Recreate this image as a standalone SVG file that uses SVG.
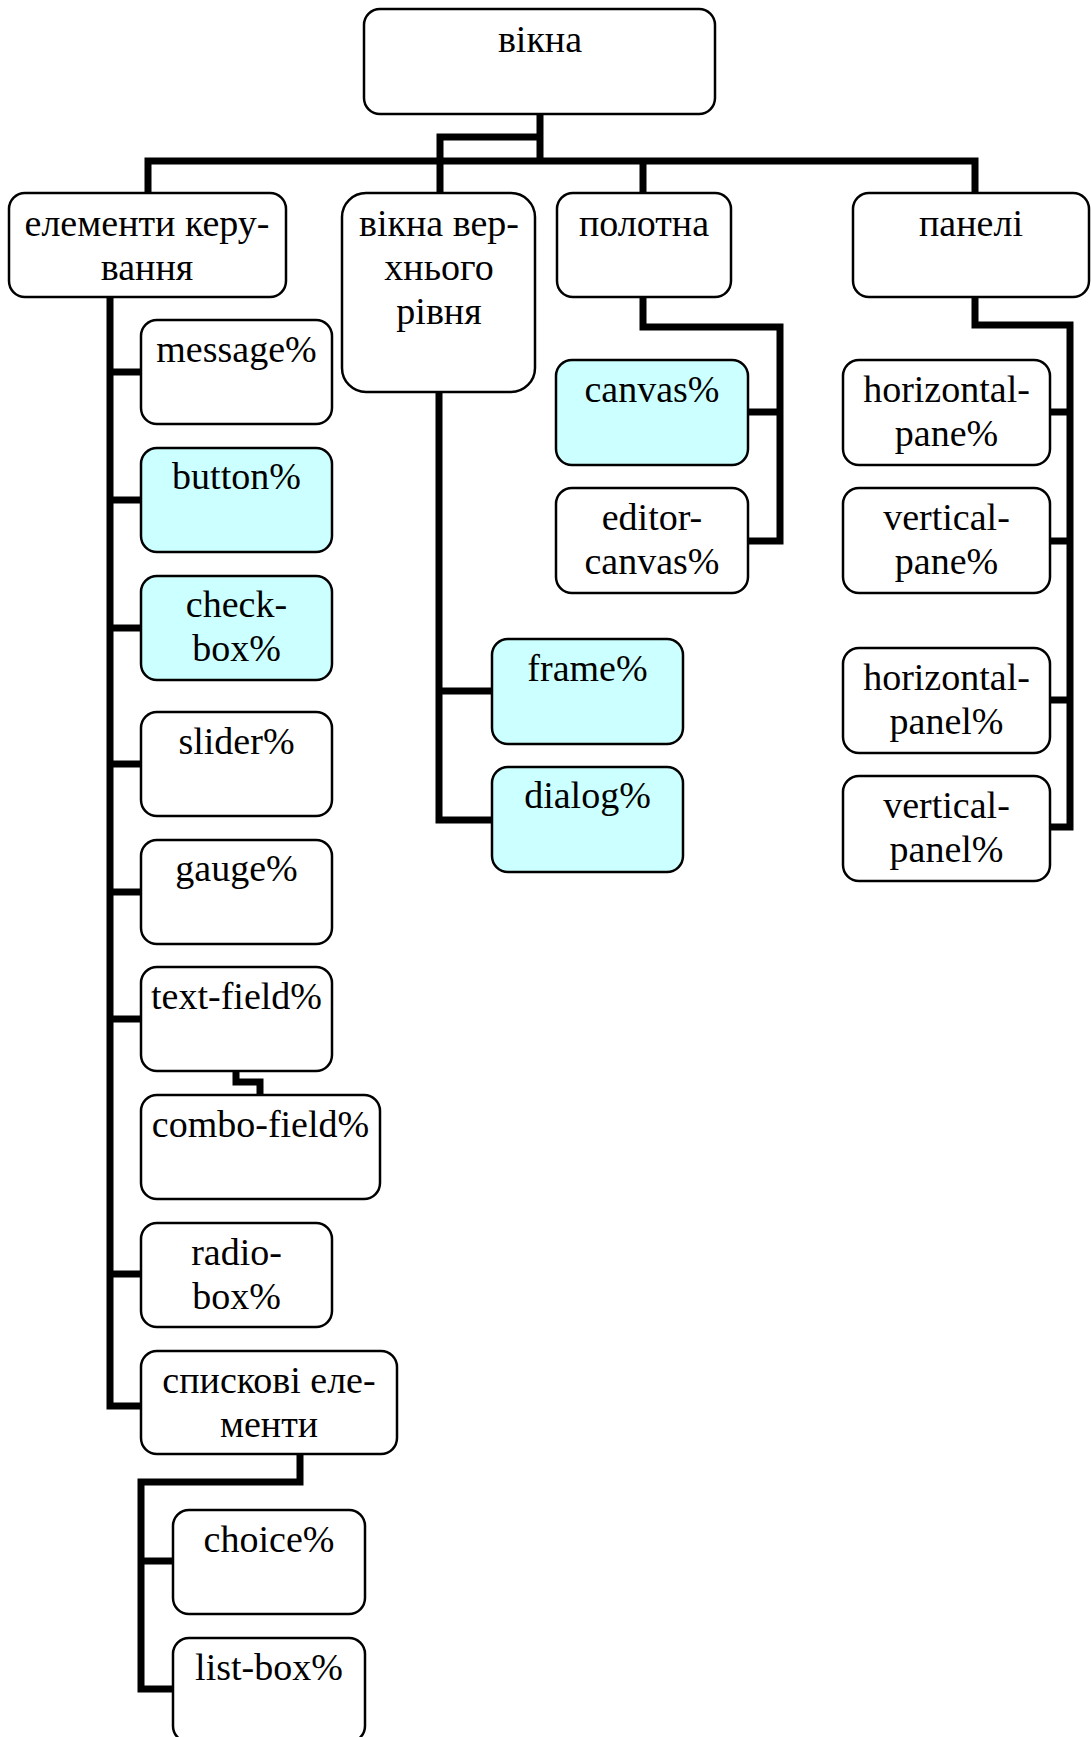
<svg xmlns="http://www.w3.org/2000/svg" width="1091" height="1737" viewBox="0 0 1091 1737">
<style>
.b{fill:#fff;stroke:#000;stroke-width:2.5}
.c{fill:#ccffff;stroke:#000;stroke-width:2.5}
.t{font-family:"Liberation Serif","Times New Roman",serif;font-size:38px;text-anchor:middle;fill:#000}
.l{fill:none;stroke:#000;stroke-width:7;stroke-linejoin:miter}
</style>
<rect width="1091" height="1737" fill="#fff"/>
<g id="connectors">
<path class="l" d="M540 114 V161 M148 193 V161 H975 V193 M643 161 V193 M540 137 H440 V193"/>
<path class="l" d="M110 297 V1406 H141 M110 372 H141 M110 500 H141 M110 628 H141 M110 764 H141 M110 892 H141 M110 1019 H141 M110 1274 H141"/>
<path class="l" d="M236 1071 V1082 H260 V1095"/>
<path class="l" d="M300 1454 V1482 H141 V1689 H173 M141 1561 H173"/>
<path class="l" d="M439 392 V820 H492 M439 691 H492"/>
<path class="l" d="M643 297 V327 H780 V541 H748 M748 412 H780"/>
<path class="l" d="M975 297 V325 H1070 V827 H1050 M1050 412 H1070 M1050 541 H1070 M1050 700 H1070"/>
</g>
<g id="root"><rect class="b" x="364" y="9" width="351" height="105" rx="16"/><text class="t" x="540" y="52">вікна</text></g>
<g id="elementy"><rect class="b" x="9" y="193" width="277" height="104" rx="16"/><text class="t" x="147" y="236">елементи керу-</text><text class="t" x="147" y="280">вання</text></g>
<g id="vikna-verkh"><rect class="b" x="342" y="193" width="193" height="199" rx="24"/><text class="t" x="439" y="236">вікна вер-</text><text class="t" x="439" y="280">хнього</text><text class="t" x="439" y="324">рівня</text></g>
<g id="polotna"><rect class="b" x="557" y="193" width="174" height="104" rx="16"/><text class="t" x="644" y="236">полотна</text></g>
<g id="paneli"><rect class="b" x="853" y="193" width="236" height="104" rx="16"/><text class="t" x="971" y="236">панелі</text></g>
<g id="message"><rect class="b" x="141" y="320" width="191" height="104" rx="16"/><text class="t" x="236.5" y="362">message%</text></g>
<g id="button"><rect class="c" x="141" y="448" width="191" height="104" rx="16"/><text class="t" x="236.5" y="489">button%</text></g>
<g id="checkbox"><rect class="c" x="141" y="576" width="191" height="104" rx="16"/><text class="t" x="236.5" y="617">check-</text><text class="t" x="236.5" y="661">box%</text></g>
<g id="slider"><rect class="b" x="141" y="712" width="191" height="104" rx="16"/><text class="t" x="236.5" y="754">slider%</text></g>
<g id="gauge"><rect class="b" x="141" y="840" width="191" height="104" rx="16"/><text class="t" x="236.5" y="881">gauge%</text></g>
<g id="textfield"><rect class="b" x="141" y="967" width="191" height="104" rx="16"/><text class="t" x="236.5" y="1009">text-field%</text></g>
<g id="combofield"><rect class="b" x="141" y="1095" width="239" height="104" rx="16"/><text class="t" x="260.5" y="1137">combo-field%</text></g>
<g id="radiobox"><rect class="b" x="141" y="1223" width="191" height="104" rx="16"/><text class="t" x="236.5" y="1265">radio-</text><text class="t" x="236.5" y="1309">box%</text></g>
<g id="spyskovi"><rect class="b" x="141" y="1351" width="256" height="103" rx="16"/><text class="t" x="269" y="1393">спискові еле-</text><text class="t" x="269" y="1437">менти</text></g>
<g id="choice"><rect class="b" x="173" y="1510" width="192" height="104" rx="16"/><text class="t" x="269" y="1552">choice%</text></g>
<g id="listbox"><rect class="b" x="173" y="1638" width="192" height="104" rx="16"/><text class="t" x="269" y="1680">list-box%</text></g>
<g id="frame"><rect class="c" x="492" y="639" width="191" height="105" rx="16"/><text class="t" x="587.5" y="681">frame%</text></g>
<g id="dialog"><rect class="c" x="492" y="767" width="191" height="105" rx="16"/><text class="t" x="587.5" y="808">dialog%</text></g>
<g id="canvas"><rect class="c" x="556" y="360" width="192" height="105" rx="16"/><text class="t" x="652" y="402">canvas%</text></g>
<g id="editorcanvas"><rect class="b" x="556" y="488" width="192" height="105" rx="16"/><text class="t" x="652" y="530">editor-</text><text class="t" x="652" y="574">canvas%</text></g>
<g id="hpane"><rect class="b" x="843" y="360" width="207" height="105" rx="16"/><text class="t" x="946.5" y="402">horizontal-</text><text class="t" x="946.5" y="446">pane%</text></g>
<g id="vpane"><rect class="b" x="843" y="488" width="207" height="105" rx="16"/><text class="t" x="946.5" y="530">vertical-</text><text class="t" x="946.5" y="574">pane%</text></g>
<g id="hpanel"><rect class="b" x="843" y="648" width="207" height="105" rx="16"/><text class="t" x="946.5" y="690">horizontal-</text><text class="t" x="946.5" y="734">panel%</text></g>
<g id="vpanel"><rect class="b" x="843" y="776" width="207" height="105" rx="16"/><text class="t" x="946.5" y="818">vertical-</text><text class="t" x="946.5" y="862">panel%</text></g>
</svg>
